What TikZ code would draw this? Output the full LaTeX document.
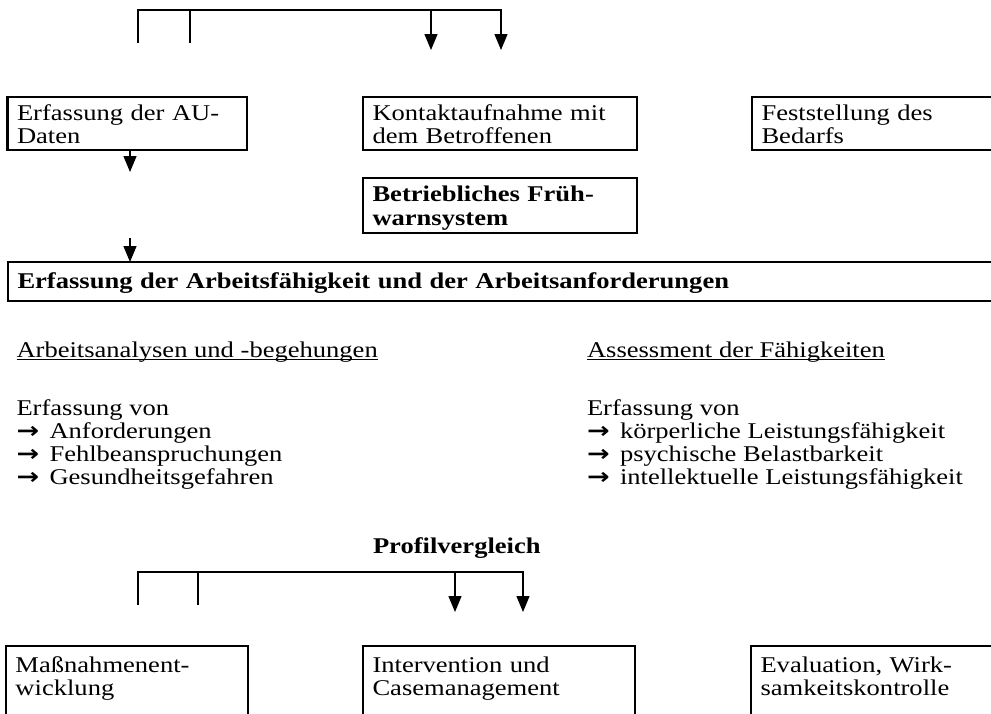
\documentclass[tikz,border=0pt]{standalone}
\usepackage{fontspec}
\setmainfont{Liberation Serif}[FakeStretch=1.18]
\newfontfamily\arrowfont{DejaVu Sans}[FakeStretch=1.2]
\usetikzlibrary{arrows.meta}
\newcommand\diafont{\fontsize{22.5}{23.5}\selectfont}
\newcommand\itemarrow{\makebox[33pt][l]{\arrowfont\bfseries →}}
\begin{document}
\begin{tikzpicture}[x=1pt,y=-1pt,
  every node/.style={font=\diafont},
  box/.style={draw, line width=2.7pt, anchor=north west, outer sep=0pt,
    inner xsep=9.5pt, inner ysep=0pt, align=left},
  plain/.style={anchor=base west, inner sep=0pt, outer sep=0pt},
  conn/.style={line width=1.3pt},
  arr/.style={line width=1.3pt, -{Triangle[length=16pt,width=13pt]}},
  uline/.style={line width=1.1pt}
]
\useasboundingbox (0,0) rectangle (991,713);
\clip (0,0) rectangle (991,713);

% top row
\node[box, text width=220.5pt, text height=23pt, text depth=30pt] (au) at (7.5,97) {Erfassung der AU-\\Daten};
\node[box, text width=255pt, text height=23pt, text depth=30pt] (kon) at (363,97) {Kontaktaufnahme mit\\dem Betroffenen};
\node[box, text width=255pt, text height=23pt, text depth=30pt] (bed) at (752,97) {Feststellung des\\Bedarfs};
\node[box, text width=255pt, text height=23.5pt, text depth=31.5pt, font=\diafont\bfseries] (fws) at (363,178) {Betriebliches Früh-\\warnsystem};
\node[box, text width=981pt, text height=26.5pt, text depth=12.5pt, font=\diafont\bfseries] (wide) at (8,262) {Erfassung der Arbeitsfähigkeit und der Arbeitsanforderungen};

% top bracket
\coordinate (ta) at (138,43);
\coordinate (tb) at (190,43);
\coordinate (tc) at (431,50);
\coordinate (td) at (501,50);
\coordinate (tr) at (501,10);
\draw[arr] (ta) |- (tr) -- (td);
\draw[conn] (tb) -- (tb |- tr);
\draw[arr] (tc |- tr) -- (tc);

% vertical arrows on the left
\coordinate (d1) at (130,172);
\coordinate (d2) at (130,238);
\draw[arr] (d1 |- au.south) -- (d1);
\draw[arr] (d2) -- (d2 |- wide.north);

% headings
\node[plain] (h1) at (16.5,357) {Arbeitsanalysen und -begehungen};
\draw[uline] ([yshift=-2.8pt]h1.base west) -- ([yshift=-2.8pt]h1.base east);
\node[plain] (h2) at (587,357) {Assessment der Fähigkeiten};
\draw[uline] ([yshift=-2.8pt]h2.base west) -- ([yshift=-2.8pt]h2.base east);

% lists
\node[plain] (l0) at (16.5,415) {Erfassung von};
\node[plain] (l1) at (16.5,438) {\itemarrow Anforderungen};
\node[plain] (l2) at (16.5,461) {\itemarrow Fehlbeanspruchungen};
\node[plain] (l3) at (16.5,484) {\itemarrow Gesundheitsgefahren};
\node[plain] (r0) at (587,415) {Erfassung von};
\node[plain] (r1) at (587,438) {\itemarrow körperliche Leistungsfähigkeit};
\node[plain] (r2) at (587,461) {\itemarrow psychische Belastbarkeit};
\node[plain] (r3) at (587,484) {\itemarrow intellektuelle Leistungsfähigkeit};

\node[plain, font=\diafont\bfseries] (pv) at (373,553) {Profilvergleich};

% bottom bracket
\coordinate (ba) at (138,605);
\coordinate (bb) at (198,605);
\coordinate (bc) at (455,612);
\coordinate (bd) at (523,612);
\coordinate (br) at (523,572);
\draw[arr] (ba) |- (br) -- (bd);
\draw[conn] (bb) -- (bb |- br);
\draw[arr] (bc |- br) -- (bc);

% bottom row
\node[box, text width=223pt, text height=26pt, text depth=70pt] (mas) at (6,646) {Maßnahmenent-\\wicklung};
\node[box, text width=253pt, text height=26pt, text depth=70pt] (int) at (363,646) {Intervention und\\Casemanagement};
\node[box, text width=255pt, text height=26pt, text depth=70pt] (eva) at (751,646) {Evaluation, Wirk-\\samkeitskontrolle};
\end{tikzpicture}
\end{document}
